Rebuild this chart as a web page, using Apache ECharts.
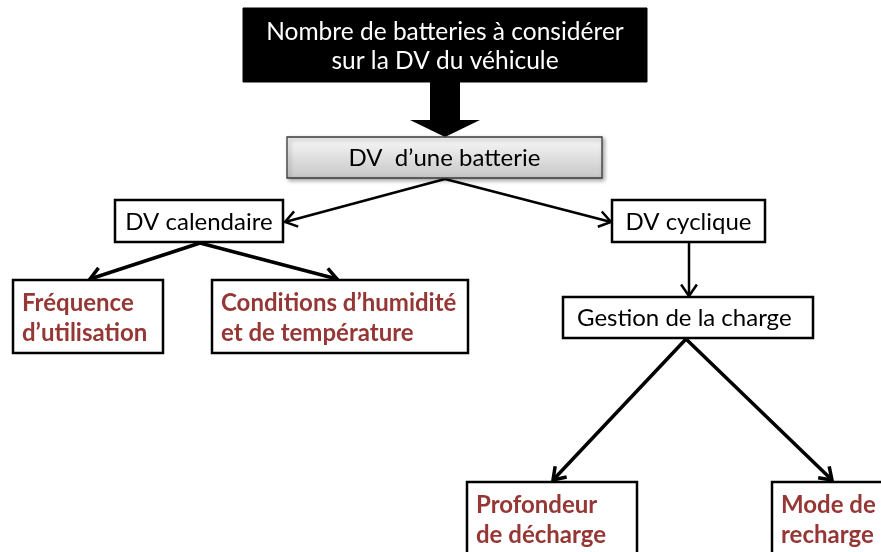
<!DOCTYPE html>
<html>
<head>
<meta charset="utf-8">
<script src="https://cdn.jsdelivr.net/npm/echarts@6/dist/echarts.min.js"></script>
<style>
  html, body { margin: 0; padding: 0; background: #fff; }
  #chart { width: 881px; height: 552px; }
</style>
</head>
<body>
<div id="chart"></div>
<script>
// libellés des boîtes
var boxLabels = [
  "Nombre de batteries à considérer\nsur la DV du véhicule",
  "DV  d’une batterie",
  "DV calendaire",
  "DV cyclique",
  "Fréquence\nd’utilisation",
  "Conditions d’humidité\net de température",
  "Gestion de la charge",
  "Profondeur\nde décharge",
  "Mode de\nrecharge"
];
// type : 0 noir, 1 gris, 2 simple, 3 rouge
var boxKinds = [0, 1, 2, 2, 3, 3, 2, 3, 3];
// étendue de chaque boîte dans le repère de la figure [x0, y0, x1, y1]
var boxExtents = [
  [243, 8, 647, 82],
  [287, 137, 602, 178],
  [115, 200, 283, 242],
  [612, 200, 765, 242],
  [13, 280, 163, 353],
  [212, 280, 468, 353],
  [563, 297, 813, 338],
  [467, 482, 637, 570],
  [772, 482, 900, 570]
];
// flèches [x départ, y départ, x arrivée, y arrivée]
var arrowLinks = [
  [445, 179, 285, 222],
  [445, 179, 611, 222],
  [689, 242, 689, 296],
  [200, 243, 90, 279],
  [200, 243, 337, 279],
  [686, 339, 553, 480],
  [686, 339, 832, 480]
];
// grosse flèche sous la boîte noire
var bigArrow = [[430, 82], [460, 82], [460, 120], [480, 120], [445, 137], [410, 120], [430, 120]];

var arrowWidths = [2.5, 2.5, 2.5, 3.5, 3.5, 3.5, 3.5];
var FONT = "Lato, 'Liberation Sans', sans-serif";

var myChart = echarts.init(document.getElementById("chart"));

function renderBox(params, api) {
  var i = params.dataIndex;
  var p0 = api.coord([api.value(0), api.value(1)]);
  var p1 = api.coord([api.value(2), api.value(3)]);
  var w = p1[0] - p0[0];
  var h = p1[1] - p0[1];
  var kind = boxKinds[i];
  var rectStyle, textStyle;
  if (kind === 0) {
    rectStyle = { fill: "#000", stroke: "#000", lineWidth: 1 };
  } else if (kind === 1) {
    rectStyle = {
      fill: new echarts.graphic.LinearGradient(0, 0, 0, 1, [
        { offset: 0, color: "#f9f9f9" },
        { offset: 1, color: "#c6c6c6" }
      ]),
      stroke: "#3a3a3a",
      lineWidth: 1.3,
      shadowBlur: 4,
      shadowOffsetX: 2,
      shadowOffsetY: 2,
      shadowColor: "rgba(0,0,0,0.35)"
    };
  } else {
    rectStyle = { fill: "#fff", stroke: "#000", lineWidth: 2.5 };
  }
  var left = kind === 3 || i === 6;
  var tx = left ? p0[0] + (kind === 3 ? 9 : 14) : p0[0] + w / 2;
  var ty = kind === 3 ? p0[1] + 8 : p0[1] + h / 2 + (kind === 0 ? 2 : 1);
  var size = kind === 0 ? 24.5 : 24;
  textStyle = {
    text: boxLabels[i],
    x: tx,
    y: ty,
    align: left ? "left" : "center",
    verticalAlign: kind === 3 ? "top" : "middle",
    fill: kind === 0 ? "#fff" : kind === 3 ? "#953735" : "#000",
    font: (kind === 3 ? "bold " : "") + size + "px " + FONT,
    lineHeight: kind === 0 ? 29 : 30
  };
  return {
    type: "group",
    children: [
      { type: "rect", shape: { x: p0[0], y: p0[1], width: w, height: h }, style: rectStyle },
      { type: "text", style: textStyle }
    ]
  };
}

function renderArrow(params, api) {
  var a = api.coord([api.value(0), api.value(1)]);
  var b = api.coord([api.value(2), api.value(3)]);
  var ang = Math.atan2(b[1] - a[1], b[0] - a[0]);
  var len = 14, spread = 0.6;
  var h1 = [b[0] - len * Math.cos(ang - spread), b[1] - len * Math.sin(ang - spread)];
  var h2 = [b[0] - len * Math.cos(ang + spread), b[1] - len * Math.sin(ang + spread)];
  var lw = arrowWidths[params.dataIndex];
  return {
    type: "group",
    children: [
      { type: "line", shape: { x1: a[0], y1: a[1], x2: b[0], y2: b[1] }, style: { stroke: "#000", lineWidth: lw } },
      { type: "polyline", shape: { points: [h1, b, h2] }, style: { stroke: "#000", fill: null, lineWidth: lw, lineJoin: "miter" } }
    ]
  };
}

myChart.setOption({
  animation: false,
  grid: { left: 0, right: 0, top: 0, bottom: 0 },
  xAxis: { type: "value", min: 0, max: 881, show: false },
  yAxis: { type: "value", min: 0, max: 552, inverse: true, show: false },
  series: [
    {
      type: "custom",
      renderItem: function (params, api) {
        var pts = bigArrow.map(function (p) { return api.coord(p); });
        return { type: "polygon", shape: { points: pts }, style: { fill: "#000" } };
      },
      data: [[0, 0]],
      silent: true
    },
    {
      type: "custom",
      renderItem: renderArrow,
      data: arrowLinks,
      silent: true
    },
    {
      type: "custom",
      renderItem: renderBox,
      data: boxExtents,
      clip: false,
      silent: true
    }
  ]
});
</script>
</body>
</html>
